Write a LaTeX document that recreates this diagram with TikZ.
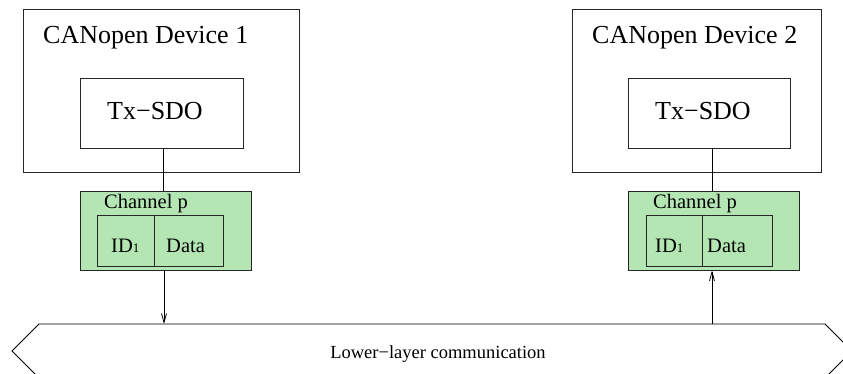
\documentclass[tikz,border=0pt]{standalone}
\usepackage{fontspec}
\setmainfont{Liberation Serif}
\usetikzlibrary{arrows.meta}
\definecolor{chgreen}{RGB}{179,230,179}
\begin{document}
\begin{tikzpicture}[x=1pt,y=-1pt,
  box/.style={draw=black!85,line width=0.8pt,rectangle,inner sep=0pt},
  chbox/.style={box,fill=chgreen},
  lbl/.style={anchor=base west,inner sep=0pt},
  conn/.style={draw=black,line width=0.8pt},
  arr/.style={conn,-{Straight Barb[length=9pt,width=5pt,line width=0.8pt]}}]
\useasboundingbox[clip] (0,0) rectangle (843,374);
% devices
\node[box,minimum width=276pt,minimum height=163pt] (dev1) at (161,90.5) {};
\node[box,minimum width=249pt,minimum height=163pt] (dev2) at (696.5,90.5) {};
\node[lbl,font=\fontsize{26}{30}\selectfont] (t1) at (43,44) {CANopen Device 1};
\node[lbl,font=\fontsize{26}{30}\selectfont] (t2) at (592,44) {CANopen Device 2};
\node[box,minimum width=163pt,minimum height=70pt] (tx1) at (161.5,113) {};
\node[box,minimum width=162pt,minimum height=70pt] (tx2) at (709,113) {};
\node[lbl,font=\fontsize{26}{30}\selectfont] (tx1t) at (107,120) {Tx−SDO};
\node[lbl,font=\fontsize{26}{30}\selectfont] (tx2t) at (655,120) {Tx−SDO};
% channels
\node[chbox,minimum width=171pt,minimum height=79pt] (ch1) at (165.5,230.5) {};
\node[chbox,minimum width=171pt,minimum height=79pt] (ch2) at (713.5,230.5) {};
\node[lbl,font=\fontsize{20.5}{24}\selectfont] (c1t) at (104,208) {Channel p};
\node[lbl,font=\fontsize{20.5}{24}\selectfont] (c2t) at (653,208) {Channel p};
\node[box,minimum width=57pt,minimum height=51pt] (id1) at (125.5,240.5) {};
\node[box,minimum width=69pt,minimum height=51pt] (da1) at (188.5,240.5) {};
\node[box,minimum width=56pt,minimum height=51pt] (id2) at (674,240.5) {};
\node[box,minimum width=70pt,minimum height=51pt] (da2) at (737,240.5) {};
\node[lbl,font=\fontsize{20.5}{24}\selectfont] (id1t) at (111,252) {ID{\fontsize{13}{15}\selectfont 1}};
\node[lbl,font=\fontsize{20.5}{24}\selectfont] (da1t) at (166,252) {Data};
\node[lbl,font=\fontsize{20.5}{24}\selectfont] (id2t) at (655,252) {ID{\fontsize{13}{15}\selectfont 1}};
\node[lbl,font=\fontsize{20.5}{24}\selectfont] (da2t) at (707,252) {Data};
% bus
\draw[conn] (12,351) -- (39,324) -- (825,324) -- (852,351) -- (825,378) -- (39,378) -- cycle;
\coordinate (bustop) at (432,324);
\node[font=\fontsize{18.5}{22}\selectfont,anchor=base,inner sep=0pt] (bus) at (438,358) {Lower−layer communication};
% connector x positions
\coordinate (x1a) at (163,0);
\coordinate (x1b) at (164,0);
\coordinate (x2) at (712,0);
% connectors
\draw[conn] (tx1.south -| x1a) -- (ch1.north -| x1a);
\draw[conn] (tx2.south -| x2) -- (ch2.north -| x2);
\draw[arr] (ch1.south -| x1b) -- (bustop -| x1b);
\draw[arr] (bustop -| x2) -- (ch2.south -| x2);
\end{tikzpicture}
\end{document}
